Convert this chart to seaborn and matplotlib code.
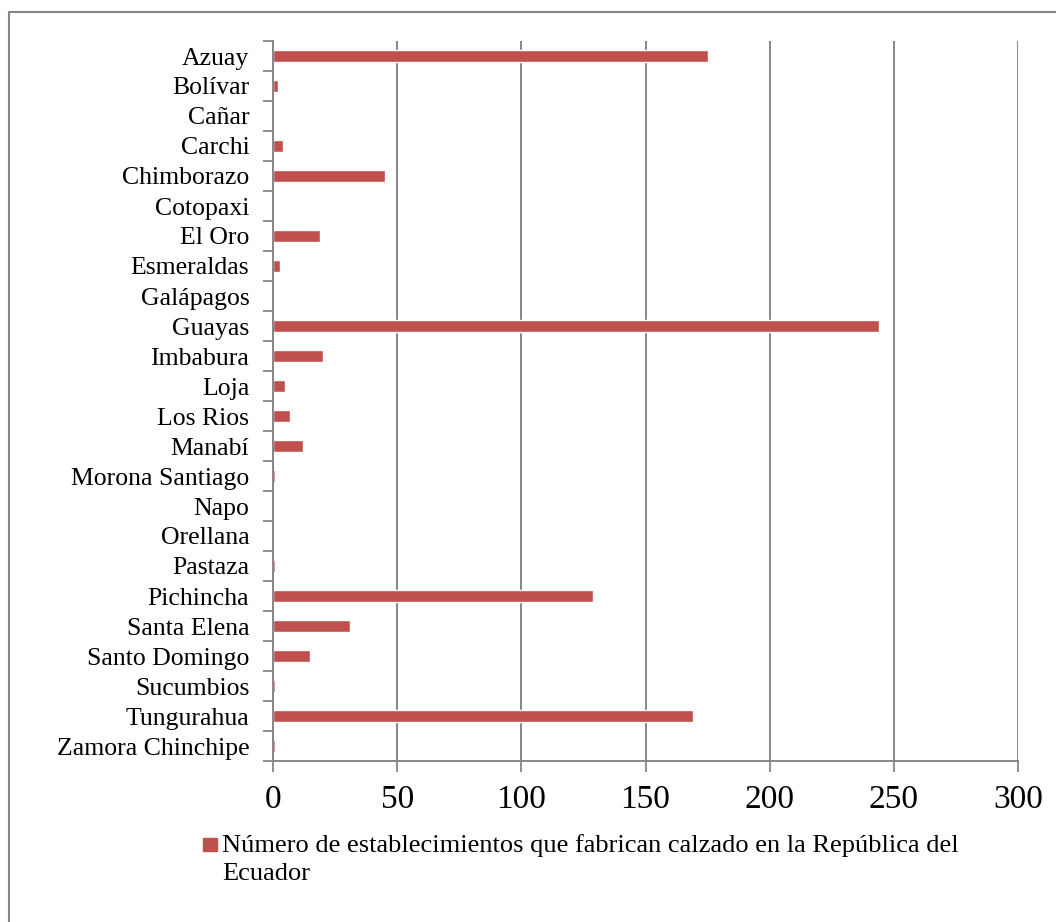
import matplotlib
matplotlib.use("Agg")
import matplotlib.pyplot as plt
import seaborn as sns
import pandas as pd
from matplotlib.patches import Rectangle
from matplotlib.ticker import FixedLocator

provincias = [
    "Azuay", "Bolívar", "Cañar", "Carchi", "Chimborazo", "Cotopaxi", "El Oro",
    "Esmeraldas", "Galápagos", "Guayas", "Imbabura", "Loja", "Los Rios", "Manabí",
    "Morona Santiago", "Napo", "Orellana", "Pastaza", "Pichincha", "Santa Elena",
    "Santo Domingo", "Sucumbios", "Tungurahua", "Zamora Chinchipe",
]
establecimientos = [
    175, 2, 0, 4, 45, 0, 19, 3, 0, 244, 20, 5, 7, 12,
    1, 0, 0, 1, 129, 31, 15, 1, 169, 1,
]
x_ticks = [0, 50, 100, 150, 200, 250, 300]
serie = "Número de establecimientos que fabrican calzado en la República del\nEcuador"

df = pd.DataFrame({"provincia": provincias, "n": establecimientos})

sns.set_theme(style="white")
plt.rcParams["font.family"] = ["Liberation Serif", "DejaVu Serif"]

BAR = "#C0504D"
AXIS = "#868686"

fig = plt.figure(figsize=(10.56, 9.22), dpi=100)
ax = fig.add_axes([273 / 1056, 1 - 761 / 922, 745 / 1056, 720 / 922])

sns.barplot(data=df, y="provincia", x="n", orient="h", color=BAR,
            width=0.4, saturation=1, ax=ax)

ax.set_xlim(0, 300)
ax.set_ylim(len(provincias) - 0.5, -0.5)
ax.set_xticks(x_ticks)
ax.set_xticklabels([str(t) for t in x_ticks], fontsize=24)
ax.tick_params(axis="x", length=8, width=1.3, color=AXIS, direction="out",
               pad=9, bottom=True, labelcolor="black")
ax.xaxis.grid(True, color=AXIS, linewidth=1.4)
ax.set_axisbelow(True)

# ticks between categories, Excel style
ax.yaxis.set_minor_locator(FixedLocator([i - 0.5 for i in range(len(provincias) + 1)]))
ax.tick_params(axis="y", which="major", length=0, labelsize=18.5, pad=17,
               labelcolor="black")
ax.tick_params(axis="y", which="minor", length=7, width=1.3, color=AXIS,
               direction="out", left=True)
ax.set_xlabel("")
ax.set_ylabel("")

for side in ["top", "right"]:
    ax.spines[side].set_visible(False)
for side in ["left", "bottom"]:
    ax.spines[side].set_color(AXIS)
    ax.spines[side].set_linewidth(1.4)

# legend drawn manually
fig.patches.append(Rectangle((203 / 1056, 1 - 851 / 922), 14 / 1056, 13 / 922,
                             transform=fig.transFigure, color=BAR))
fig.text(222 / 1056, 1 - 834 / 922, serie, fontsize=19, va="top", ha="left",
         linespacing=1.36, color="black")

# outer frame
fig.patches.append(Rectangle((9 / 1056, -0.05), 1.1, 1 - 12 / 922 + 0.05,
                             transform=fig.transFigure, fill=False,
                             edgecolor=AXIS, linewidth=1.5))

fig.savefig("out.png", dpi=100)
